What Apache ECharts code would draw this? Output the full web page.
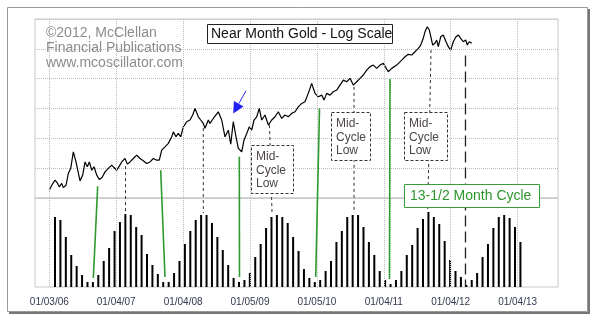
<!DOCTYPE html>
<html><head><meta charset="utf-8">
<script src="https://cdn.jsdelivr.net/npm/echarts@6/dist/echarts.min.js"></script>
<style>html,body{margin:0;padding:0;background:#fff}#c{width:600px;height:325px}</style>
</head><body><div id="c"></div>
<script>
// ---- data ----
const xTickYears = [2006, 2007, 2008, 2009, 2010, 2011, 2012, 2013];
const xTickLabels = ['01/03/06', '01/04/07', '01/04/08', '01/05/09', '01/05/10', '01/04/11', '01/04/12', '01/04/13'];

const priceYears = [
  2006.000, 2006.036, 2006.085, 2006.120, 2006.149, 2006.185, 2006.209, 2006.250, 2006.284, 2006.320,
  2006.359, 2006.399, 2006.425, 2006.459, 2006.499, 2006.534, 2006.568, 2006.598, 2006.634, 2006.668,
  2006.709, 2006.747, 2006.788, 2006.833, 2006.882, 2006.933, 2006.967, 2007.007, 2007.046, 2007.082,
  2007.132, 2007.166, 2007.206, 2007.256, 2007.306, 2007.356, 2007.405, 2007.456, 2007.505, 2007.555,
  2007.605, 2007.644, 2007.680, 2007.729, 2007.779, 2007.830, 2007.854, 2007.894, 2007.928, 2007.964,
  2008.003, 2008.054, 2008.103, 2008.143, 2008.178, 2008.227, 2008.263, 2008.302, 2008.327, 2008.377,
  2008.402, 2008.451, 2008.526, 2008.577, 2008.626, 2008.676, 2008.712, 2008.750, 2008.791, 2008.825,
  2008.851, 2008.876, 2008.910, 2008.951, 2008.990, 2009.025, 2009.060, 2009.100, 2009.139, 2009.175,
  2009.224, 2009.274, 2009.324, 2009.374, 2009.423, 2009.474, 2009.523, 2009.572, 2009.623, 2009.673,
  2009.722, 2009.773, 2009.822, 2009.871, 2009.922, 2009.972, 2010.021, 2010.072, 2010.106, 2010.146,
  2010.196, 2010.245, 2010.296, 2010.345, 2010.395, 2010.445, 2010.495, 2010.544, 2010.595, 2010.644,
  2010.694, 2010.744, 2010.794, 2010.843, 2010.894, 2010.943, 2010.993, 2011.067, 2011.118, 2011.193,
  2011.268, 2011.317, 2011.366, 2011.417, 2011.466, 2011.516, 2011.552, 2011.590, 2011.616, 2011.650,
  2011.680, 2011.706, 2011.731, 2011.765, 2011.791, 2011.815, 2011.851, 2011.889, 2011.930, 2011.964,
  2012.000, 2012.039, 2012.079, 2012.114, 2012.149, 2012.188, 2012.224, 2012.248, 2012.278, 2012.314
];
const goldPrices = [
  532, 553, 575, 563, 546, 561, 543, 553, 606, 630,
  716, 662, 621, 572, 598, 662, 638, 662, 621, 638,
  598, 578, 587, 613, 630, 646, 634, 621, 641, 662,
  680, 651, 662, 680, 698, 680, 668, 654, 662, 680,
  671, 671, 725, 744, 764, 804, 835, 804, 825, 804,
  868, 903, 915, 951, 1001, 938, 915, 891, 858, 915,
  891, 926, 975, 915, 804, 846, 759, 903, 804, 735,
  744, 716, 783, 825, 868, 846, 915, 938, 1001, 915,
  951, 880, 915, 938, 975, 926, 951, 938, 963, 975,
  1013, 1040, 1053, 1124, 1214, 1124, 1095, 1109, 1067, 1124,
  1109, 1138, 1153, 1198, 1245, 1229, 1262, 1198, 1229, 1262,
  1295, 1345, 1380, 1398, 1363, 1398, 1417, 1328, 1363, 1398,
  1453, 1491, 1519, 1511, 1550, 1591, 1632, 1719, 1809, 1880,
  1833, 1857, 1632, 1654, 1696, 1611, 1740, 1763, 1674, 1611,
  1570, 1674, 1740, 1763, 1719, 1674, 1696, 1632, 1674, 1654
];

const barStartYear = 2006.085;
const barStepYears = 0.0809;
const cycleValues = [
  70, 67, 50, 32, 21, 12, 5, 5, 12, 26, 39, 56, 65, 73, 72, 60, 52, 33, 22, 13,
  5, 5, 14, 26, 43, 56, 67, 72, 72, 64, 50, 37, 22, 9, 5, 7, 14, 30, 43, 59,
  70, 72, 70, 64, 50, 36, 18, 9, 5, 7, 16, 26, 45, 56, 70, 72, 72, 60, 45, 32,
  16, 7, 3, 7, 16, 32, 42, 59, 68, 75, 70, 63, 46, 27, 16, 10, 2, 7, 14, 30,
  43, 59, 70, 72, 69, 60, 45
];

// annotations: [yearTop, priceTop, yearBottom, cycleValueBottom]
const greenLinks = [
  [2006.723, 549, 2006.658, 9],
  [2007.665, 621, 2007.729, 10],
  [2008.840, 689, 2008.843, 10],
  [2010.039, 1001, 2009.982, 10],
  [2011.093, 1255, 2011.085, 8]
];
const dashedLinks = [
  [2007.139, 641, 2007.139, 75],
  [2008.302, 860, 2008.302, 74],
  [2009.291, 880, 2009.329, 74],
  [2010.555, 1182, 2010.555, 74],
  [2011.706, 1570, 2011.656, 77]
];
const longDashLink = [2012.221, 1505, 2012.221, 0];
const arrowLink = [2008.940, 1147, 2008.750, 963]; // tail (year, price) -> tip (year, price)

// ---- chart ----
const FONT = '"Liberation Sans", Arial, sans-serif';
const X_MIN = 2005.786, X_MAX = 2013.604;
const logP = p => 10 * Math.log10(p);
const chart = echarts.init(document.getElementById('c'), null, { renderer: 'canvas' });

const vGrid = {
  silent: true, symbol: ['none', 'none'], label: { show: false },
  lineStyle: { type: 'dotted', color: '#bdbdbd', width: 1 },
  data: xTickYears.map(v => ({ xAxis: v }))
};

chart.setOption({
  animation: false,
  backgroundColor: '#fff',
  grid: [
    { left: 35, top: 19, width: 523, height: 179, show: true, borderColor: '#c8c8c8', borderWidth: 1, backgroundColor: 'transparent' },
    { left: 35, top: 198, width: 523, height: 89, show: true, borderColor: '#c8c8c8', borderWidth: 1, backgroundColor: 'transparent' }
  ],
  xAxis: [
    { gridIndex: 0, type: 'value', min: X_MIN, max: X_MAX, show: false, splitLine: { show: false } },
    {
      gridIndex: 1, type: 'value', min: X_MIN, max: X_MAX,
      axisLine: { show: false }, axisTick: { show: false, customValues: xTickYears }, splitLine: { show: false },
      axisLabel: {
        customValues: xTickYears, margin: 10, color: '#33384f', fontSize: 10, fontFamily: FONT,
        formatter: v => { const i = xTickYears.findIndex(t => Math.abs(t - v) < 1e-3); return i >= 0 ? xTickLabels[i] : ''; }
      }
    }
  ],
  yAxis: [
    {
      gridIndex: 0, type: 'value', min: 27, max: 33, interval: 1,
      axisLine: { show: false }, axisTick: { show: false }, axisLabel: { show: false },
      splitLine: { show: true, lineStyle: { type: 'dotted', color: '#bdbdbd', width: 1 } }
    },
    {
      gridIndex: 1, type: 'value', min: 0, max: 89,
      axisLine: { show: false }, axisTick: { show: false }, axisLabel: { show: false }, splitLine: { show: false }
    }
  ],
  series: [
    {
      type: 'line', xAxisIndex: 0, yAxisIndex: 0, showSymbol: false, silent: true,
      data: priceYears.map((y, i) => [y, logP(goldPrices[i])]),
      lineStyle: { color: '#000', width: 1.2 }, z: 3,
      markLine: vGrid
    },
    {
      type: 'bar', xAxisIndex: 1, yAxisIndex: 1, barWidth: 2, silent: true,
      data: cycleValues.map((v, i) => [barStartYear + i * barStepYears, v]),
      itemStyle: { color: '#000' }, z: 3,
      markLine: vGrid
    }
  ]
});

const p0 = (yr, price) => chart.convertToPixel({ gridIndex: 0 }, [yr, logP(price)]);
const p1 = (yr, v) => chart.convertToPixel({ gridIndex: 1 }, [yr, v]);

const g = [];
const line = (a, b, style) => g.push({ type: 'line', z: 50, shape: { x1: a[0], y1: a[1], x2: b[0], y2: b[1] }, style: style });

// connectors
dashedLinks.forEach(d => line(p0(d[0], d[1]), p1(d[2], d[3]), { stroke: '#333', lineWidth: 1, lineDash: [3, 3] }));
line(p0(longDashLink[0], longDashLink[1]), p1(longDashLink[2], longDashLink[3]), { stroke: '#222', lineWidth: 1.3, lineDash: [11, 5] });
greenLinks.forEach(d => line(p0(d[0], d[1]), p1(d[2], d[3]), { stroke: '#2f9a2f', lineWidth: 1.6 }));

// blue arrow
(function () {
  const a = p0(arrowLink[0], arrowLink[1]), b = p0(arrowLink[2], arrowLink[3]);
  const dx = b[0] - a[0], dy = b[1] - a[1], L = Math.hypot(dx, dy), ux = dx / L, uy = dy / L;
  const hl = 11, hw = 5.5;
  const bx = b[0] - ux * hl, by = b[1] - uy * hl;
  line(a, [bx, by], { stroke: '#2a2af0', lineWidth: 1 });
  g.push({ type: 'polygon', z: 51, shape: { points: [b, [bx - uy * hw, by + ux * hw], [bx + uy * hw, by - ux * hw]] }, style: { fill: '#1f1ff0' } });
})();

// boxes
const box = (x, y, w, h, stroke, dash) => g.push({ type: 'rect', z: 60, shape: { x: x, y: y, width: w, height: h }, style: { fill: '#fff', stroke: stroke, lineWidth: 1, lineDash: dash || null } });
const txt = (x, y, s, size, color, va, lh) => g.push({ type: 'text', z: 61, style: { x: x, y: y, text: s, fontSize: size, fontFamily: FONT, fill: color, verticalAlign: va || 'middle', align: 'left', lineHeight: lh || size + 2 } });

box(207.5, 24.5, 185, 19, '#222');
txt(211, 34.5, 'Near Month Gold - Log Scale', 14, '#111');

box(251.5, 145.5, 42, 48, '#333', [3, 2]);
txt(256, 150, 'Mid-\nCycle\nLow', 12, '#4d4545', 'top', 13.5);
box(331.5, 112.5, 39, 48, '#333', [3, 2]);
txt(336, 117, 'Mid-\nCycle\nLow', 12, '#4d4545', 'top', 13.5);
box(404.5, 112.5, 43, 48, '#333', [3, 2]);
txt(409, 117, 'Mid-\nCycle\nLow', 12, '#4d4545', 'top', 13.5);

box(404.5, 184.5, 135, 23, '#3a9a3a');
txt(410, 196.5, '13-1/2 Month Cycle', 14, '#2e962e');

// watermark
txt(46, 33.5, '©2012, McClellan', 14, '#8c8c8c');
txt(46, 48.5, 'Financial Publications', 14, '#8c8c8c');
txt(46, 63.5, 'www.mcoscillator.com', 14, '#8c8c8c');

// outer frame with shadow
g.push({ type: 'rect', z: 70, shape: { x: 7.5, y: 7.5, width: 580, height: 304 }, style: { fill: null, stroke: '#999', lineWidth: 1 } });
g.push({ type: 'line', z: 70, shape: { x1: 9, y1: 313, x2: 590, y2: 313 }, style: { stroke: '#777', lineWidth: 2 } });
g.push({ type: 'line', z: 70, shape: { x1: 589, y1: 9, x2: 589, y2: 314 }, style: { stroke: '#777', lineWidth: 2 } });

chart.setOption({ graphic: { elements: g } });
</script>
</body></html>
